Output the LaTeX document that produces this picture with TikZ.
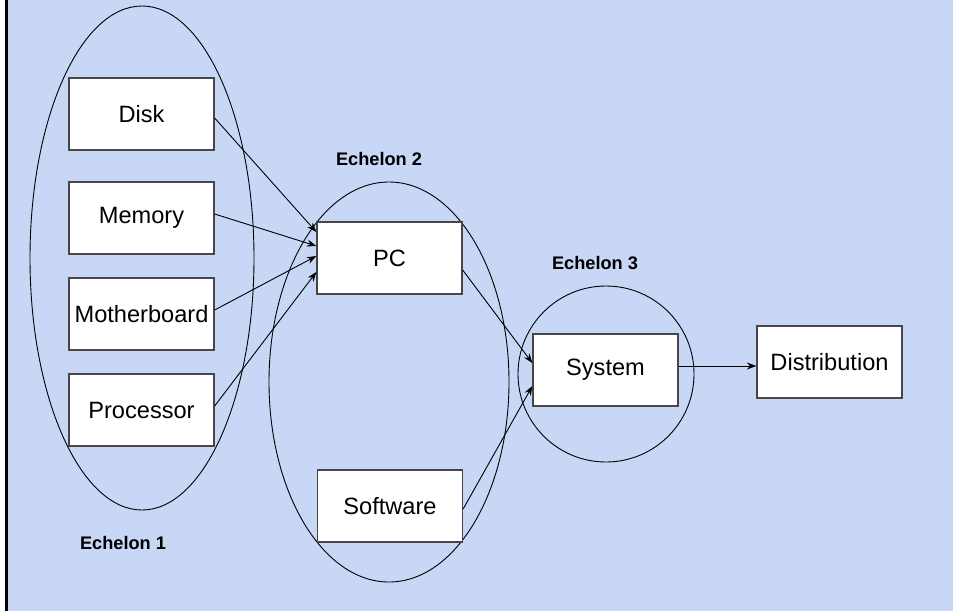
\documentclass[tikz,border=0pt]{standalone}
\usepackage{fontspec}
\setmainfont{Liberation Sans}
\usetikzlibrary{shapes.geometric,arrows.meta}
\definecolor{paper}{RGB}{199,215,245}
\definecolor{boxline}{RGB}{70,70,70}
\tikzset{
  stage/.style={draw=boxline, line width=1.3pt, fill=white, rectangle,
    minimum width=145pt, minimum height=72pt, inner sep=0pt,
    font=\fontsize{23.6}{28}\selectfont},
  group/.style={draw=black, line width=0.9pt, ellipse, inner sep=0pt},
  tag/.style={font=\fontsize{18.2}{22}\selectfont\bfseries, inner sep=0pt},
  flow/.style={draw=black, line width=0.9pt, -{Stealth[length=9.5pt,width=7pt]}}
}
\begin{document}
\begin{tikzpicture}[x=1pt,y=-1pt]
  % page and left rule
  \useasboundingbox (0,0) rectangle (953,611);
  \fill[white] (0,0) rectangle (953,611);
  \fill[paper] (7,0) rectangle (953,611);
  \fill[black] (5,0) rectangle (7.5,611);

  % echelon groupings
  \node[group, minimum width=224pt, minimum height=504pt] (g1) at (142,258) {};
  \node[group, minimum width=240pt, minimum height=400pt] (g2) at (389,382) {};
  \node[group, minimum width=176pt, minimum height=176pt] (g3) at (606,374) {};

  % echelon titles
  \node[tag] (t1) at (123,543) {Echelon 1};
  \node[tag] (t2) at (379,159) {Echelon 2};
  \node[tag] (t3) at (595,263) {Echelon 3};

  % stages
  \node[stage] (disk) at (141.5,114) {Disk};
  \node[stage] (mem)  at (141.5,218) {Memory};
  \node[stage] (mb)   at (141.5,314) {Motherboard};
  \node[stage] (cpu)  at (141.5,410) {Processor};
  \node[stage] (pc)   at (389.5,258) {PC};
  \node[stage] (sw)   at (390,506)   {Software};
  \node[stage] (sys)  at (605.5,370) {System};
  \node[stage] (dist) at (829.5,362) {Distribution};

  % material flow
  \draw[flow] ([yshift=-4pt]disk.east) -- ([yshift=26pt]pc.west);
  \draw[flow] ([yshift=4pt]mem.east)   -- ([yshift=12pt]pc.west);
  \draw[flow] ([yshift=4pt]mb.east)    -- ([yshift=2pt]pc.west);
  \draw[flow] ([yshift=4pt]cpu.east)   -- ([yshift=-14pt]pc.west);
  \draw[flow] ([yshift=-12pt]pc.east)  -- ([yshift=7pt]sys.west);
  \draw[flow] ([yshift=-3pt]sw.east)   -- ([yshift=-16pt]sys.west);
  \draw[flow] ([yshift=4pt]sys.east)   -- ([yshift=-4pt]dist.west);
\end{tikzpicture}
\end{document}
